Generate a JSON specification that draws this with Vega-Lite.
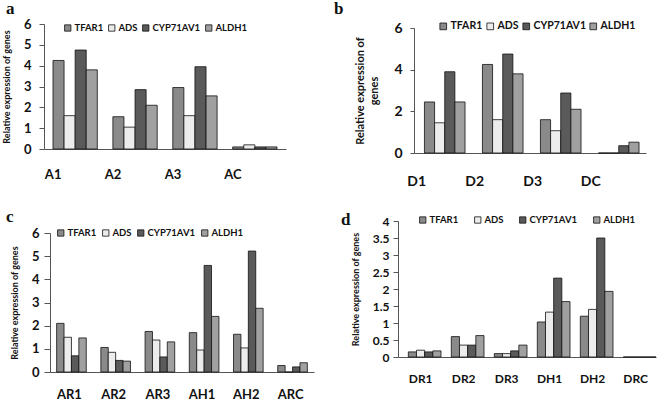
{
  "$schema": "https://vega.github.io/schema/vega-lite/v6.json",
  "background": "white",
  "padding": {"left": 2, "top": 0, "right": 0, "bottom": 0},
  "config": {
    "view": {"stroke": null},
    "font": "Lato",
    "axis": {"grid": false, "labelFont": "Lato", "labelFontWeight": "bold", "labelColor": "#111", "titleFont": "Lato", "titleFontWeight": "bold", "titleColor": "#111", "domainColor": "#555", "tickColor": "#555"},
    "legend": {"labelFont": "Lato", "labelFontWeight": "bold", "labelColor": "#111", "symbolType": "square", "symbolStrokeColor": "#111", "symbolStrokeWidth": 1, "symbolOpacity": 1, "direction": "horizontal", "columns": 4, "title": null, "orient": "none"},
    "title": {"font": "Liberation Serif", "fontWeight": "bold", "fontSize": 17, "color": "#111", "anchor": "start", "frame": "group"},
    "bar": {"stroke": "#111", "strokeWidth": 0.8}
  },
  "datasets": {
    "a": [
      {"g": "A1", "gene": "TFAR1", "v": 4.25}, {"g": "A1", "gene": "ADS", "v": 1.6}, {"g": "A1", "gene": "CYP71AV1", "v": 4.75}, {"g": "A1", "gene": "ALDH1", "v": 3.8},
      {"g": "A2", "gene": "TFAR1", "v": 1.55}, {"g": "A2", "gene": "ADS", "v": 1.05}, {"g": "A2", "gene": "CYP71AV1", "v": 2.85}, {"g": "A2", "gene": "ALDH1", "v": 2.1},
      {"g": "A3", "gene": "TFAR1", "v": 2.95}, {"g": "A3", "gene": "ADS", "v": 1.6}, {"g": "A3", "gene": "CYP71AV1", "v": 3.95}, {"g": "A3", "gene": "ALDH1", "v": 2.55},
      {"g": "AC", "gene": "TFAR1", "v": 0.1}, {"g": "AC", "gene": "ADS", "v": 0.2}, {"g": "AC", "gene": "CYP71AV1", "v": 0.1}, {"g": "AC", "gene": "ALDH1", "v": 0.1}
    ],
    "b": [
      {"g": "D1", "gene": "TFAR1", "v": 2.45}, {"g": "D1", "gene": "ADS", "v": 1.45}, {"g": "D1", "gene": "CYP71AV1", "v": 3.9}, {"g": "D1", "gene": "ALDH1", "v": 2.45},
      {"g": "D2", "gene": "TFAR1", "v": 4.25}, {"g": "D2", "gene": "ADS", "v": 1.6}, {"g": "D2", "gene": "CYP71AV1", "v": 4.75}, {"g": "D2", "gene": "ALDH1", "v": 3.8},
      {"g": "D3", "gene": "TFAR1", "v": 1.6}, {"g": "D3", "gene": "ADS", "v": 1.07}, {"g": "D3", "gene": "CYP71AV1", "v": 2.88}, {"g": "D3", "gene": "ALDH1", "v": 2.1},
      {"g": "DC", "gene": "TFAR1", "v": 0}, {"g": "DC", "gene": "ADS", "v": 0}, {"g": "DC", "gene": "CYP71AV1", "v": 0.35}, {"g": "DC", "gene": "ALDH1", "v": 0.52}
    ],
    "c": [
      {"g": "AR1", "gene": "TFAR1", "v": 2.1}, {"g": "AR1", "gene": "ADS", "v": 1.5}, {"g": "AR1", "gene": "CYP71AV1", "v": 0.7}, {"g": "AR1", "gene": "ALDH1", "v": 1.47},
      {"g": "AR2", "gene": "TFAR1", "v": 1.06}, {"g": "AR2", "gene": "ADS", "v": 0.85}, {"g": "AR2", "gene": "CYP71AV1", "v": 0.5}, {"g": "AR2", "gene": "ALDH1", "v": 0.47},
      {"g": "AR3", "gene": "TFAR1", "v": 1.75}, {"g": "AR3", "gene": "ADS", "v": 1.38}, {"g": "AR3", "gene": "CYP71AV1", "v": 0.65}, {"g": "AR3", "gene": "ALDH1", "v": 1.3},
      {"g": "AH1", "gene": "TFAR1", "v": 1.7}, {"g": "AH1", "gene": "ADS", "v": 0.95}, {"g": "AH1", "gene": "CYP71AV1", "v": 4.6}, {"g": "AH1", "gene": "ALDH1", "v": 2.4},
      {"g": "AH2", "gene": "TFAR1", "v": 1.63}, {"g": "AH2", "gene": "ADS", "v": 1.04}, {"g": "AH2", "gene": "CYP71AV1", "v": 5.22}, {"g": "AH2", "gene": "ALDH1", "v": 2.75},
      {"g": "ARC", "gene": "TFAR1", "v": 0.28}, {"g": "ARC", "gene": "ADS", "v": 0}, {"g": "ARC", "gene": "CYP71AV1", "v": 0.22}, {"g": "ARC", "gene": "ALDH1", "v": 0.4}
    ],
    "d": [
      {"g": "DR1", "gene": "TFAR1", "v": 0.15}, {"g": "DR1", "gene": "ADS", "v": 0.2}, {"g": "DR1", "gene": "CYP71AV1", "v": 0.15}, {"g": "DR1", "gene": "ALDH1", "v": 0.18},
      {"g": "DR2", "gene": "TFAR1", "v": 0.6}, {"g": "DR2", "gene": "ADS", "v": 0.35}, {"g": "DR2", "gene": "CYP71AV1", "v": 0.35}, {"g": "DR2", "gene": "ALDH1", "v": 0.63},
      {"g": "DR3", "gene": "TFAR1", "v": 0.1}, {"g": "DR3", "gene": "ADS", "v": 0.1}, {"g": "DR3", "gene": "CYP71AV1", "v": 0.18}, {"g": "DR3", "gene": "ALDH1", "v": 0.35},
      {"g": "DH1", "gene": "TFAR1", "v": 1.03}, {"g": "DH1", "gene": "ADS", "v": 1.32}, {"g": "DH1", "gene": "CYP71AV1", "v": 2.32}, {"g": "DH1", "gene": "ALDH1", "v": 1.63},
      {"g": "DH2", "gene": "TFAR1", "v": 1.2}, {"g": "DH2", "gene": "ADS", "v": 1.4}, {"g": "DH2", "gene": "CYP71AV1", "v": 3.5}, {"g": "DH2", "gene": "ALDH1", "v": 1.93},
      {"g": "DRC", "gene": "TFAR1", "v": 0}, {"g": "DRC", "gene": "ADS", "v": 0}, {"g": "DRC", "gene": "CYP71AV1", "v": 0}, {"g": "DRC", "gene": "ALDH1", "v": 0}
    ]
  },
  "spacing": 20,
  "resolve": {"scale": {"color": "independent", "x": "independent", "y": "independent", "xOffset": "independent"}, "legend": {"color": "independent"}},
  "vconcat": [
    {
      "spacing": 48,
      "resolve": {"scale": {"color": "independent", "x": "independent", "y": "independent", "xOffset": "independent"}, "legend": {"color": "independent"}},
      "hconcat": [
        {
          "data": {"name": "a"},
          "width": 242, "height": 125,
          "title": {"text": "a", "dx": -38, "offset": 0},
          "mark": {"type": "bar"},
          "encoding": {
            "x": {"field": "g", "type": "nominal", "sort": null, "scale": {"paddingInner": 0.26, "paddingOuter": 0.15}, "axis": {"title": null, "labelAngle": 0, "ticks": false, "tickSize": 0, "labelPadding": 19, "labelOffset": -22, "labelFontSize": 13}},
            "xOffset": {"field": "gene", "type": "nominal", "sort": ["TFAR1", "ADS", "CYP71AV1", "ALDH1"], "scale": {"paddingInner": 0, "paddingOuter": 0}},
            "y": {"field": "v", "type": "quantitative", "scale": {"domain": [0, 6], "nice": false}, "axis": {"title": "Relative expression of genes", "values": [0, 1, 2, 3, 4, 5, 6], "tickSize": 5, "labelPadding": 8, "labelFontSize": 13, "titleFontSize": 9, "titlePadding": 12}},
            "color": {"field": "gene", "type": "nominal", "sort": ["TFAR1", "ADS", "CYP71AV1", "ALDH1"], "scale": {"domain": ["TFAR1", "ADS", "CYP71AV1", "ALDH1"], "range": ["#8a8a8a", "#ececec", "#5a5a5a", "#a0a0a0"]}, "legend": {"legendX": 19, "legendY": -1, "labelFontSize": 9.5, "symbolSize": 40, "columnPadding": 2, "labelOffset": 2}}
          }
        },
        {
          "data": {"name": "b"},
          "width": 232, "height": 129,
          "title": {"text": "b", "dx": -80, "offset": 3},
          "mark": {"type": "bar"},
          "encoding": {
            "x": {"field": "g", "type": "nominal", "sort": null, "scale": {"paddingInner": 0.3, "paddingOuter": 0.15, "align": 0.6}, "axis": {"title": null, "labelAngle": 0, "ticks": false, "tickSize": 0, "labelPadding": 21, "labelOffset": -28, "labelFontSize": 14}},
            "xOffset": {"field": "gene", "type": "nominal", "sort": ["TFAR1", "ADS", "CYP71AV1", "ALDH1"], "scale": {"paddingInner": 0, "paddingOuter": 0}},
            "y": {"field": "v", "type": "quantitative", "scale": {"domain": [0, 6], "nice": false, "range": [129, 4]}, "axis": {"title": ["Relative expression of", "genes"], "values": [0, 2, 4, 6], "tickSize": 4, "labelPadding": 8, "labelFontSize": 14, "titleFontSize": 11, "titleLineHeight": 14, "titlePadding": 14}},
            "color": {"field": "gene", "type": "nominal", "sort": ["TFAR1", "ADS", "CYP71AV1", "ALDH1"], "scale": {"domain": ["TFAR1", "ADS", "CYP71AV1", "ALDH1"], "range": ["#8a8a8a", "#ececec", "#5a5a5a", "#a0a0a0"]}, "legend": {"legendX": 24, "legendY": -3, "labelFontSize": 10.5, "symbolSize": 45, "columnPadding": 2, "labelOffset": 2}}
          }
        }
      ]
    },
    {
      "spacing": 27,
      "resolve": {"scale": {"color": "independent", "x": "independent", "y": "independent", "xOffset": "independent"}, "legend": {"color": "independent"}},
      "hconcat": [
        {
          "data": {"name": "c"},
          "width": 270, "height": 151,
          "title": {"text": "c", "dx": -38, "offset": -5},
          "mark": {"type": "bar"},
          "encoding": {
            "x": {"field": "g", "type": "nominal", "sort": null, "scale": {"range": [6, 270], "paddingInner": 0.33, "paddingOuter": 0.15}, "axis": {"title": null, "labelAngle": 0, "ticks": false, "tickSize": 0, "labelPadding": 16, "labelOffset": -2, "labelFontSize": 13}},
            "xOffset": {"field": "gene", "type": "nominal", "sort": ["TFAR1", "ADS", "CYP71AV1", "ALDH1"], "scale": {"paddingInner": 0, "paddingOuter": 0}},
            "y": {"field": "v", "type": "quantitative", "scale": {"domain": [0, 6], "nice": false, "range": [151, 12]}, "axis": {"title": "Relative expression of genes", "offset": -6, "values": [0, 1, 2, 3, 4, 5, 6], "tickSize": 6, "labelPadding": 5, "labelFontSize": 13, "titleFontSize": 9, "titlePadding": 12}},
            "color": {"field": "gene", "type": "nominal", "sort": ["TFAR1", "ADS", "CYP71AV1", "ALDH1"], "scale": {"domain": ["TFAR1", "ADS", "CYP71AV1", "ALDH1"], "range": ["#8a8a8a", "#ececec", "#5a5a5a", "#a0a0a0"]}, "legend": {"legendX": 12, "legendY": 7, "labelFontSize": 9.5, "symbolSize": 40, "columnPadding": 3, "labelOffset": 2}}
          }
        },
        {
          "data": {"name": "d"},
          "width": 258, "height": 136,
          "title": {"text": "d", "dx": -57, "offset": -14},
          "mark": {"type": "bar"},
          "encoding": {
            "x": {"field": "g", "type": "nominal", "sort": null, "scale": {"paddingInner": 0.24, "paddingOuter": 0.12, "align": 1}, "axis": {"title": null, "labelAngle": 0, "ticks": false, "tickSize": 0, "labelPadding": 16, "labelOffset": -4, "labelFontSize": 12}},
            "xOffset": {"field": "gene", "type": "nominal", "sort": ["TFAR1", "ADS", "CYP71AV1", "ALDH1"], "scale": {"paddingInner": 0, "paddingOuter": 0}},
            "y": {"field": "v", "type": "quantitative", "scale": {"domain": [0, 4], "nice": false}, "axis": {"title": "Relative expression of genes", "values": [0, 0.5, 1, 1.5, 2, 2.5, 3, 3.5, 4], "format": "~g", "tickSize": 5, "labelPadding": 4, "labelFontSize": 12, "titleFontSize": 9, "titlePadding": 12}},
            "color": {"field": "gene", "type": "nominal", "sort": ["TFAR1", "ADS", "CYP71AV1", "ALDH1"], "scale": {"domain": ["TFAR1", "ADS", "CYP71AV1", "ALDH1"], "range": ["#8a8a8a", "#ececec", "#5a5a5a", "#a0a0a0"]}, "legend": {"legendX": 20, "legendY": -6, "labelFontSize": 9.5, "symbolSize": 40, "columnPadding": 13, "labelOffset": 2}}
          }
        }
      ]
    }
  ]
}
